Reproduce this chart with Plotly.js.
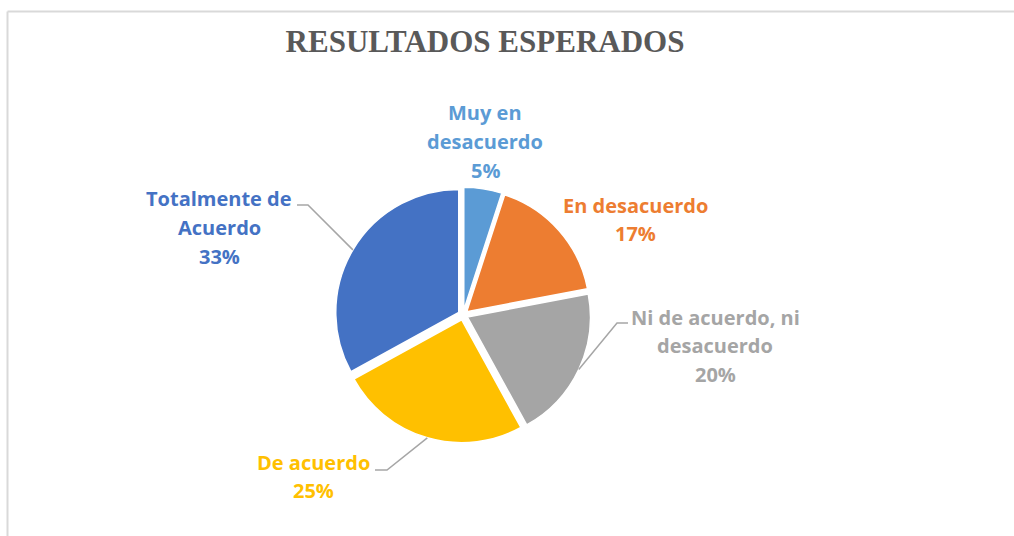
<!DOCTYPE html>
<html>
<head>
<meta charset="utf-8">
<script src="https://cdn.plot.ly/plotly-3.0.1.min.js"></script>
<style>html,body{margin:0;padding:0;background:#fff;}#chart{width:1014px;height:536px;}</style>
</head>
<body>
<div id="chart"></div>
<script>
// ---- data ----
const labels = ['Muy en desacuerdo', 'En desacuerdo', 'Ni de acuerdo, ni desacuerdo', 'De acuerdo', 'Totalmente de Acuerdo'];
const labelWrapped = ['Muy en<br>desacuerdo', 'En desacuerdo', 'Ni de acuerdo, ni<br>desacuerdo', 'De acuerdo', 'Totalmente de<br>Acuerdo'];
const values = [5, 17, 20, 25, 33];
const colors = ['#5B9BD5', '#ED7D31', '#A5A5A5', '#FFC000', '#4472C4'];
const titleText = 'RESULTADOS ESPERADOS';

// ---- layout constants (pixels) ----
const W = 1014, H = 536;
const CX = 463, CY = 315, R = 123, PULL = 0.04;
const labelPos = [[485, 113], [635, 205], [715, 317], [313, 462], [219, 199]];
const lineGap = 28.7;
const leaders = [null, null, [617, 323, 628], [387, 470, 375], [308, 205, 297]];

const px = x => x / W;
const py = y => 1 - y / H;

const half = R * (1 + PULL);
const trace = {
  type: 'pie',
  labels: labels,
  values: values,
  sort: false,
  direction: 'clockwise',
  rotation: 0,
  pull: PULL,
  marker: {colors: colors, line: {color: '#ffffff', width: 1.5}},
  textinfo: 'none',
  hoverinfo: 'label+percent',
  domain: {x: [px(CX - half), px(CX + half)], y: [py(CY + half), py(CY - half)]}
};

const total = values.reduce((a, b) => a + b, 0);
const annotations = [];
const shapes = [
  {type: 'line', xref: 'paper', yref: 'paper', x0: px(7.5), x1: px(7.5), y0: py(11.5), y1: py(540), line: {color: '#d9d9d9', width: 2}},
  {type: 'line', xref: 'paper', yref: 'paper', x0: px(7.5), x1: px(1014), y0: py(11.5), y1: py(11.5), line: {color: '#d9d9d9', width: 2}}
];
let cum = 0;
values.forEach((v, i) => {
  const mid = (cum + v / 2) / total * 2 * Math.PI;
  cum += v;
  const lines = labelWrapped[i].split('<br>').concat([Math.round(v / total * 100) + '%']);
  lines.forEach((t, j) => {
    annotations.push({
      xref: 'paper', yref: 'paper', x: px(labelPos[i][0]), y: py(labelPos[i][1] + j * lineGap),
      xanchor: 'center', yanchor: 'middle', showarrow: false, text: '<b>' + t + '</b>',
      font: {family: '"Open Sans", Lato, sans-serif', size: 20, color: colors[i]}
    });
  });
  if (leaders[i]) {
    const dx = Math.sin(mid), dy = -Math.cos(mid);
    const ax = CX + dx * PULL * R + dx * R, ay = CY + dy * PULL * R + dy * R;
    const [ex, ey, hx] = leaders[i];
    shapes.push({type: 'path', xref: 'paper', yref: 'paper',
      path: `M ${px(ax)},${py(ay)} L ${px(ex)},${py(ey)} L ${px(hx)},${py(ey)}`,
      line: {color: '#a6a6a6', width: 1.5}});
  }
});

const layout = {
  width: W, height: H,
  margin: {l: 0, r: 0, t: 0, b: 0},
  paper_bgcolor: '#ffffff',
  showlegend: false,
  title: {text: '<b>' + titleText + '</b>', x: px(485), xanchor: 'center', y: py(41), yanchor: 'middle',
    font: {family: '"Liberation Serif", "Times New Roman", serif', size: 31, color: '#595959'}},
  annotations: annotations,
  shapes: shapes
};
Plotly.newPlot('chart', [trace], layout, {displayModeBar: false, staticPlot: true});
</script>
</body>
</html>
